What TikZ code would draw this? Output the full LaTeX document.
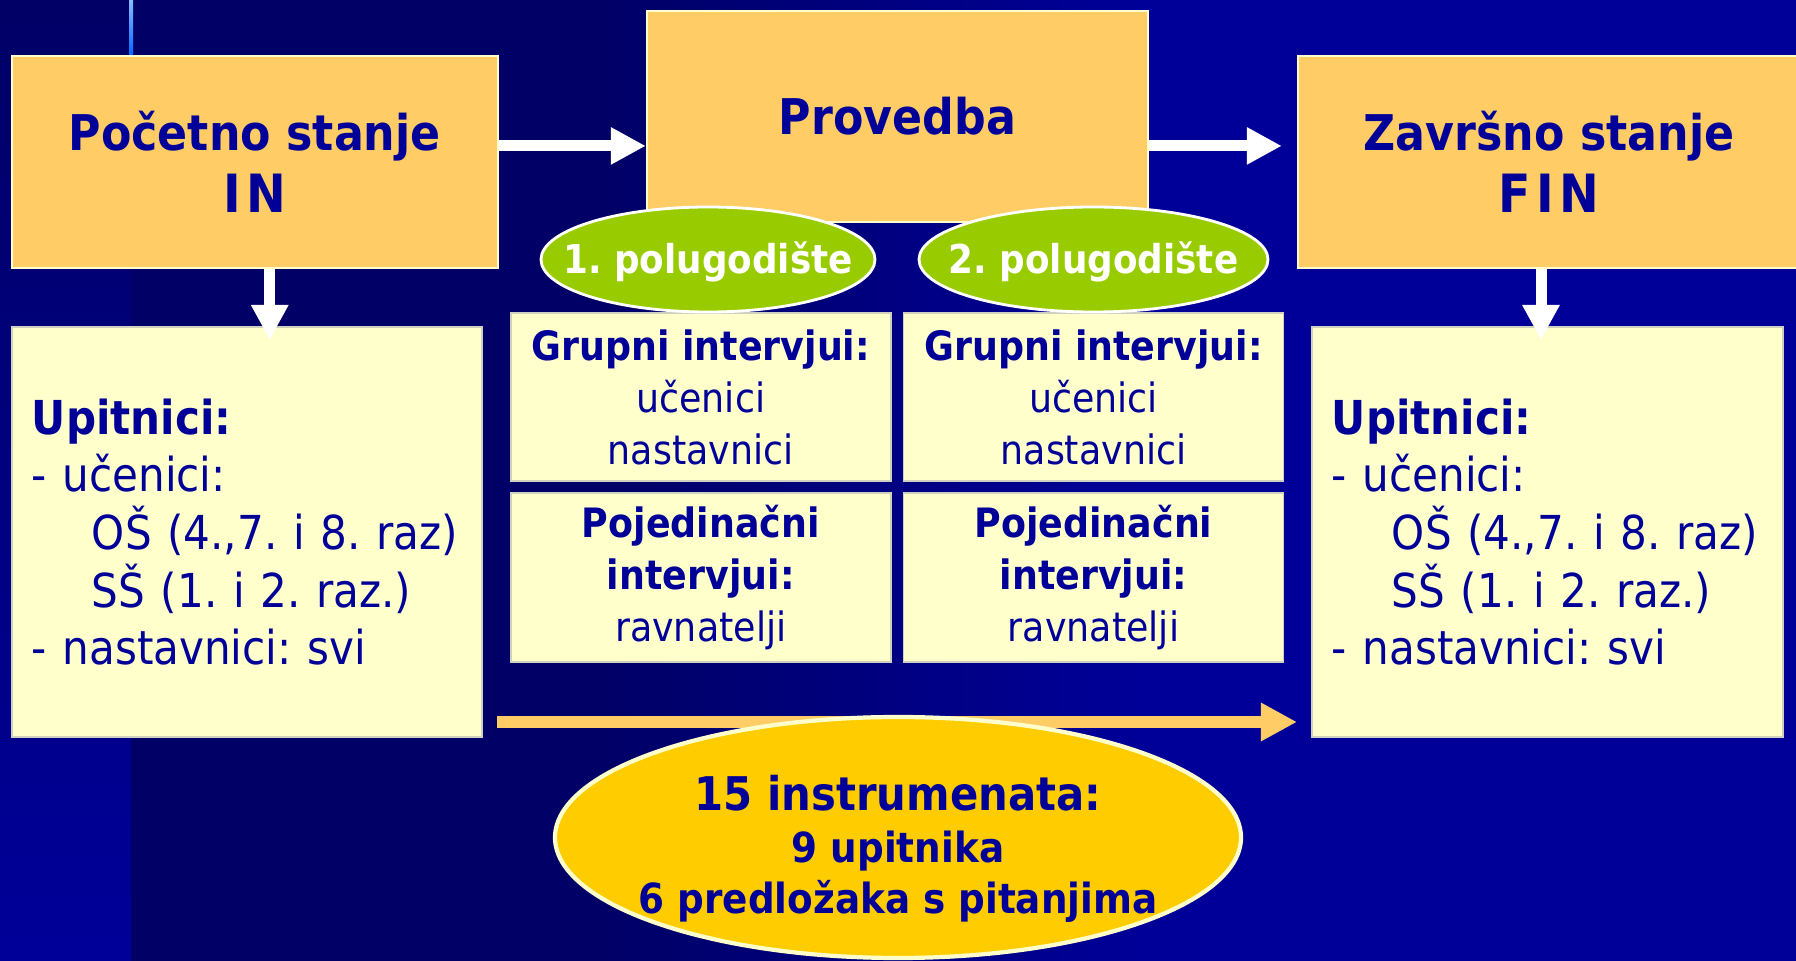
\documentclass[tikz,border=0pt]{standalone}
\usepackage{fontspec}
\setmainfont{DejaVu Sans}[FakeStretch=0.9]
\usetikzlibrary{arrows.meta,positioning,calc,shapes.geometric}
\frenchspacing

\definecolor{navy}{HTML}{000099}
\definecolor{bgdark}{HTML}{000066}
\definecolor{bglight}{HTML}{000099}
\definecolor{lineblue}{HTML}{0066FF}
\definecolor{peach}{HTML}{FFCC66}
\definecolor{cream}{HTML}{FFFFCC}
\definecolor{creamedge}{HTML}{D0D0C0}
\definecolor{leaf}{HTML}{99CC00}
\definecolor{gold}{HTML}{FFCC00}

\begin{document}
\begin{tikzpicture}[x=0.01cm, y=-0.01cm,
  stagebox/.style={draw=cream, line width=0.6pt, fill=peach, text=navy, align=center,
                   inner sep=0pt, minimum height=2.12cm, font=\fontsize{14}{17.6}\selectfont\bfseries},
  listbox/.style={draw=creamedge, line width=0.5pt, fill=cream, text=navy, align=left,
                  inner xsep=0.2cm, inner ysep=0pt, minimum height=4.10cm,
                  font=\fontsize{13.3}{16.4}\selectfont},
  cellbox/.style={draw=creamedge, line width=0.5pt, fill=cream, text=navy, align=center,
                  inner sep=0pt, minimum width=3.80cm, font=\fontsize{11.5}{14.8}\selectfont},
  semester/.style={draw=white, line width=0.8pt, fill=leaf},
  semlabel/.style={text=white, inner sep=0pt, font=\fontsize{11.3}{13}\selectfont\bfseries},
  warr/.style={-{Triangle[width=3.5mm, length=3.5mm]}, line width=1.1mm, white},
  oarr/.style={-{Triangle[width=3.6mm, length=3.6mm]}, line width=1.2mm, peach}
]
  \useasboundingbox (0,0) rectangle (1796,961);

  % background
  \shade[top color=bgdark, bottom color=bglight] (0,0) rectangle (131,961);
  \fill[bgdark] (131,0) rectangle (600,961);
  \shade[left color=bgdark, right color=bglight] (600,0) rectangle (1150,961);
  \fill[bglight] (1150,0) rectangle (1796,961);
  \shade[top color=lineblue!45!white, bottom color=lineblue] (129,0) rectangle (133,56);

  \node[stagebox, minimum width=4.855cm] (in)  at (254.75,162) {Početno stanje\\{\fontsize{15}{17.6}\selectfont I\kern1.5pt N}};
  \node[stagebox, minimum width=5.01cm, minimum height=2.11cm] (prov) at (897.5,116.5) {Provedba};
  \node[stagebox, minimum width=5.02cm] (fin) at (1549,162) {Završno stanje\\{\fontsize{15}{17.6}\selectfont F\kern1.5pt I\kern1.5pt N}};

  \node[listbox, text width=4.30cm] (uleft) at (247,532)
    {\textbf{Upitnici:}\\- učenici:\\\hspace*{6mm}OŠ (4.,7. i 8. raz)\\\hspace*{6mm}SŠ (1. i 2. raz.)\\- nastavnici: svi};
  \node[listbox, text width=4.31cm] (uright) at (1547.5,532)
    {\textbf{Upitnici:}\\- učenici:\\\hspace*{6mm}OŠ (4.,7. i 8. raz)\\\hspace*{6mm}SŠ (1. i 2. raz.)\\- nastavnici: svi};

  \node[cellbox, minimum height=1.68cm] (grp1) at (700.75,397) {\textbf{Grupni intervjui:}\\učenici\\nastavnici};
  \node[cellbox, minimum height=1.68cm] (grp2) at (1093.5,397) {\textbf{Grupni intervjui:}\\učenici\\nastavnici};
  \node[cellbox, minimum height=1.69cm] (ind1) at (700.75,577.5) {\textbf{Pojedinačni}\\\textbf{intervjui:}\\ravnatelji};
  \node[cellbox, minimum height=1.69cm] (ind2) at (1093.5,577.5) {\textbf{Pojedinačni}\\\textbf{intervjui:}\\ravnatelji};

  \draw[semester] (708,259.5) ellipse [x radius=167, y radius=52.5];
  \node[semlabel] (sem1) at (708,262) {1. polugodište};
  \draw[semester] (1093.5,259.5) ellipse [x radius=174.5, y radius=52.5];
  \node[semlabel] (sem2) at (1093.5,262) {2. polugodište};

  \draw[warr] ([yshift=-9.1mm]in.north east) -- ([yshift=-9.1mm]in.north east -| prov.west);
  \draw[warr, shorten >=1.5mm] ([yshift=-9.1mm]in.north east -| prov.east) -- ([yshift=-9.1mm]in.north east -| fin.west);
  \draw[warr] ([xshift=1.5mm]in.south) -- ([xshift=1.5mm, yshift=-1.4mm]in.south |- uleft.north);
  \draw[warr] ([xshift=-0.8mm]fin.south) -- ([xshift=-0.8mm, yshift=-1.4mm]fin.south |- uright.north);

  \draw[oarr, shorten <=1.4mm, shorten >=1.4mm] ([yshift=1.6mm]uleft.south east) -- ([yshift=1.6mm]uright.south west);

  \draw[draw=cream, line width=1.2pt, fill=gold] (898,837.5) ellipse [x radius=343, y radius=120.5];
  \node[text=navy, inner sep=0pt, align=center, font=\fontsize{11.8}{14.7}\selectfont\bfseries] (total) at (898,849)
    {{\fontsize{13.2}{14.7}\selectfont 15 instrumenata:}\\9 upitnika\\6 predložaka s pitanjima};
\end{tikzpicture}
\end{document}
